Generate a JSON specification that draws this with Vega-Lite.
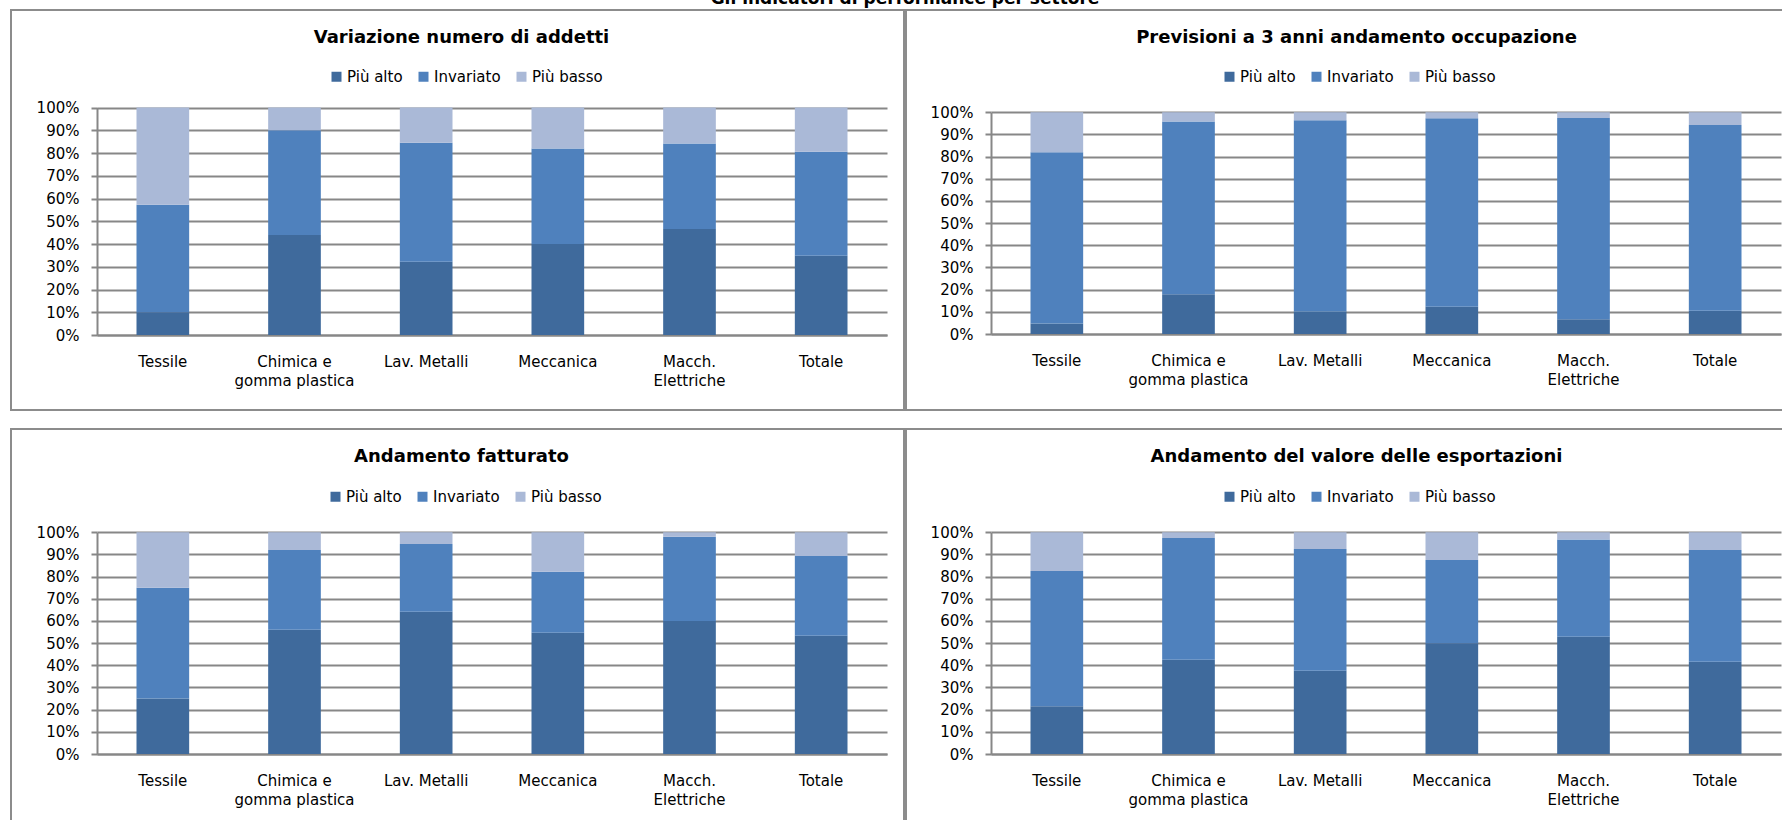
{
  "$schema": "https://vega.github.io/schema/vega-lite/v6.json",
  "autosize": {"type": "pad"},
  "padding": {"left": 10, "top": -10, "right": -14, "bottom": -10},
  "background": "#ffffff",
  "title": {
    "text": "Gli indicatori di performance per settore",
    "fontSize": 17,
    "fontWeight": "bold",
    "anchor": "middle",
    "frame": "bounds",
    "baseline": "alphabetic",
    "offset": -12,
    "dx": 0
  },
  "datasets": {
    "esiti": [
      {"esito": "Più alto", "ordine": 1},
      {"esito": "Invariato", "ordine": 2},
      {"esito": "Più basso", "ordine": 3}
    ],
    "indicatori": [
      {"grafico": "Variazione numero di addetti", "settore": "Tessile", "esito": "Più alto", "quota": 10.0},
      {"grafico": "Variazione numero di addetti", "settore": "Tessile", "esito": "Invariato", "quota": 47.3},
      {"grafico": "Variazione numero di addetti", "settore": "Tessile", "esito": "Più basso", "quota": 42.7},
      {"grafico": "Variazione numero di addetti", "settore": "Chimica e gomma plastica", "esito": "Più alto", "quota": 44.0},
      {"grafico": "Variazione numero di addetti", "settore": "Chimica e gomma plastica", "esito": "Invariato", "quota": 46.0},
      {"grafico": "Variazione numero di addetti", "settore": "Chimica e gomma plastica", "esito": "Più basso", "quota": 10.0},
      {"grafico": "Variazione numero di addetti", "settore": "Lav. Metalli", "esito": "Più alto", "quota": 32.2},
      {"grafico": "Variazione numero di addetti", "settore": "Lav. Metalli", "esito": "Invariato", "quota": 52.3},
      {"grafico": "Variazione numero di addetti", "settore": "Lav. Metalli", "esito": "Più basso", "quota": 15.5},
      {"grafico": "Variazione numero di addetti", "settore": "Meccanica", "esito": "Più alto", "quota": 40.0},
      {"grafico": "Variazione numero di addetti", "settore": "Meccanica", "esito": "Invariato", "quota": 42.0},
      {"grafico": "Variazione numero di addetti", "settore": "Meccanica", "esito": "Più basso", "quota": 18.0},
      {"grafico": "Variazione numero di addetti", "settore": "Macch. Elettriche", "esito": "Più alto", "quota": 46.6},
      {"grafico": "Variazione numero di addetti", "settore": "Macch. Elettriche", "esito": "Invariato", "quota": 37.6},
      {"grafico": "Variazione numero di addetti", "settore": "Macch. Elettriche", "esito": "Più basso", "quota": 15.8},
      {"grafico": "Variazione numero di addetti", "settore": "Totale", "esito": "Più alto", "quota": 34.8},
      {"grafico": "Variazione numero di addetti", "settore": "Totale", "esito": "Invariato", "quota": 45.8},
      {"grafico": "Variazione numero di addetti", "settore": "Totale", "esito": "Più basso", "quota": 19.4},

      {"grafico": "Previsioni a 3 anni andamento occupazione", "settore": "Tessile", "esito": "Più alto", "quota": 4.7},
      {"grafico": "Previsioni a 3 anni andamento occupazione", "settore": "Tessile", "esito": "Invariato", "quota": 77.3},
      {"grafico": "Previsioni a 3 anni andamento occupazione", "settore": "Tessile", "esito": "Più basso", "quota": 18.0},
      {"grafico": "Previsioni a 3 anni andamento occupazione", "settore": "Chimica e gomma plastica", "esito": "Più alto", "quota": 17.9},
      {"grafico": "Previsioni a 3 anni andamento occupazione", "settore": "Chimica e gomma plastica", "esito": "Invariato", "quota": 77.9},
      {"grafico": "Previsioni a 3 anni andamento occupazione", "settore": "Chimica e gomma plastica", "esito": "Più basso", "quota": 4.2},
      {"grafico": "Previsioni a 3 anni andamento occupazione", "settore": "Lav. Metalli", "esito": "Più alto", "quota": 10.1},
      {"grafico": "Previsioni a 3 anni andamento occupazione", "settore": "Lav. Metalli", "esito": "Invariato", "quota": 86.3},
      {"grafico": "Previsioni a 3 anni andamento occupazione", "settore": "Lav. Metalli", "esito": "Più basso", "quota": 3.6},
      {"grafico": "Previsioni a 3 anni andamento occupazione", "settore": "Meccanica", "esito": "Più alto", "quota": 12.3},
      {"grafico": "Previsioni a 3 anni andamento occupazione", "settore": "Meccanica", "esito": "Invariato", "quota": 85.0},
      {"grafico": "Previsioni a 3 anni andamento occupazione", "settore": "Meccanica", "esito": "Più basso", "quota": 2.7},
      {"grafico": "Previsioni a 3 anni andamento occupazione", "settore": "Macch. Elettriche", "esito": "Più alto", "quota": 6.6},
      {"grafico": "Previsioni a 3 anni andamento occupazione", "settore": "Macch. Elettriche", "esito": "Invariato", "quota": 90.8},
      {"grafico": "Previsioni a 3 anni andamento occupazione", "settore": "Macch. Elettriche", "esito": "Più basso", "quota": 2.6},
      {"grafico": "Previsioni a 3 anni andamento occupazione", "settore": "Totale", "esito": "Più alto", "quota": 10.5},
      {"grafico": "Previsioni a 3 anni andamento occupazione", "settore": "Totale", "esito": "Invariato", "quota": 83.8},
      {"grafico": "Previsioni a 3 anni andamento occupazione", "settore": "Totale", "esito": "Più basso", "quota": 5.7},

      {"grafico": "Andamento fatturato", "settore": "Tessile", "esito": "Più alto", "quota": 25.0},
      {"grafico": "Andamento fatturato", "settore": "Tessile", "esito": "Invariato", "quota": 50.0},
      {"grafico": "Andamento fatturato", "settore": "Tessile", "esito": "Più basso", "quota": 25.0},
      {"grafico": "Andamento fatturato", "settore": "Chimica e gomma plastica", "esito": "Più alto", "quota": 56.0},
      {"grafico": "Andamento fatturato", "settore": "Chimica e gomma plastica", "esito": "Invariato", "quota": 36.0},
      {"grafico": "Andamento fatturato", "settore": "Chimica e gomma plastica", "esito": "Più basso", "quota": 8.0},
      {"grafico": "Andamento fatturato", "settore": "Lav. Metalli", "esito": "Più alto", "quota": 64.2},
      {"grafico": "Andamento fatturato", "settore": "Lav. Metalli", "esito": "Invariato", "quota": 30.5},
      {"grafico": "Andamento fatturato", "settore": "Lav. Metalli", "esito": "Più basso", "quota": 5.3},
      {"grafico": "Andamento fatturato", "settore": "Meccanica", "esito": "Più alto", "quota": 54.7},
      {"grafico": "Andamento fatturato", "settore": "Meccanica", "esito": "Invariato", "quota": 27.5},
      {"grafico": "Andamento fatturato", "settore": "Meccanica", "esito": "Più basso", "quota": 17.8},
      {"grafico": "Andamento fatturato", "settore": "Macch. Elettriche", "esito": "Più alto", "quota": 60.0},
      {"grafico": "Andamento fatturato", "settore": "Macch. Elettriche", "esito": "Invariato", "quota": 38.0},
      {"grafico": "Andamento fatturato", "settore": "Macch. Elettriche", "esito": "Più basso", "quota": 2.0},
      {"grafico": "Andamento fatturato", "settore": "Totale", "esito": "Più alto", "quota": 53.3},
      {"grafico": "Andamento fatturato", "settore": "Totale", "esito": "Invariato", "quota": 36.0},
      {"grafico": "Andamento fatturato", "settore": "Totale", "esito": "Più basso", "quota": 10.7},

      {"grafico": "Andamento del valore delle esportazioni", "settore": "Tessile", "esito": "Più alto", "quota": 21.5},
      {"grafico": "Andamento del valore delle esportazioni", "settore": "Tessile", "esito": "Invariato", "quota": 61.0},
      {"grafico": "Andamento del valore delle esportazioni", "settore": "Tessile", "esito": "Più basso", "quota": 17.5},
      {"grafico": "Andamento del valore delle esportazioni", "settore": "Chimica e gomma plastica", "esito": "Più alto", "quota": 42.5},
      {"grafico": "Andamento del valore delle esportazioni", "settore": "Chimica e gomma plastica", "esito": "Invariato", "quota": 54.9},
      {"grafico": "Andamento del valore delle esportazioni", "settore": "Chimica e gomma plastica", "esito": "Più basso", "quota": 2.6},
      {"grafico": "Andamento del valore delle esportazioni", "settore": "Lav. Metalli", "esito": "Più alto", "quota": 37.5},
      {"grafico": "Andamento del valore delle esportazioni", "settore": "Lav. Metalli", "esito": "Invariato", "quota": 55.0},
      {"grafico": "Andamento del valore delle esportazioni", "settore": "Lav. Metalli", "esito": "Più basso", "quota": 7.5},
      {"grafico": "Andamento del valore delle esportazioni", "settore": "Meccanica", "esito": "Più alto", "quota": 50.0},
      {"grafico": "Andamento del valore delle esportazioni", "settore": "Meccanica", "esito": "Invariato", "quota": 37.5},
      {"grafico": "Andamento del valore delle esportazioni", "settore": "Meccanica", "esito": "Più basso", "quota": 12.5},
      {"grafico": "Andamento del valore delle esportazioni", "settore": "Macch. Elettriche", "esito": "Più alto", "quota": 52.9},
      {"grafico": "Andamento del valore delle esportazioni", "settore": "Macch. Elettriche", "esito": "Invariato", "quota": 43.9},
      {"grafico": "Andamento del valore delle esportazioni", "settore": "Macch. Elettriche", "esito": "Più basso", "quota": 3.2},
      {"grafico": "Andamento del valore delle esportazioni", "settore": "Totale", "esito": "Più alto", "quota": 41.6},
      {"grafico": "Andamento del valore delle esportazioni", "settore": "Totale", "esito": "Invariato", "quota": 50.4},
      {"grafico": "Andamento del valore delle esportazioni", "settore": "Totale", "esito": "Più basso", "quota": 8.0}
    ]
  },
  "spacing": 17,
  "resolve": {
    "scale": {"x": "independent", "y": "independent", "color": "independent"},
    "axis": {"x": "independent", "y": "independent"},
    "legend": {"color": "independent"}
  },
  "vconcat": [
    {
      "spacing": 0,
      "resolve": {
        "scale": {"x": "independent", "y": "independent", "color": "independent"},
        "axis": {"x": "independent", "y": "independent"},
        "legend": {"color": "independent"}
      },
      "hconcat": [
        {
          "width": 893,
          "height": 400,
          "title": {"text": "Variazione numero di addetti"},
          "data": {"name": "indicatori"},
          "transform": [
            {"filter": "datum.grafico == 'Variazione numero di addetti'"},
            {"lookup": "esito", "from": {"data": {"name": "esiti"}, "key": "esito", "fields": ["ordine"]}}
          ],
          "mark": {"type": "bar"},
          "encoding": {
            "x": {
              "field": "settore", "type": "nominal", "title": null,
              "sort": ["Tessile", "Chimica e gomma plastica", "Lav. Metalli", "Meccanica", "Macch. Elettriche", "Totale"],
              "scale": {"range": [86, 876], "paddingInner": 0.6, "paddingOuter": 0.3},
              "axis": {"offset": -75}
            },
            "y": {
              "field": "quota", "type": "quantitative", "title": null, "stack": "zero",
              "scale": {"domain": [0, 100], "nice": false, "range": [325, 97.5]},
              "axis": {"offset": -86}
            },
            "order": {"field": "ordine", "type": "quantitative", "sort": "ascending"},
            "color": {
              "field": "esito", "type": "nominal",
              "sort": ["Più alto", "Invariato", "Più basso"],
              "scale": {"domain": ["Più alto", "Invariato", "Più basso"], "range": ["#3f6a9c", "#4f81bd", "#aab9d7"]},
              "legend": {"legendX": 318, "legendY": 59}
            }
          }
        },
        {
          "width": 893,
          "height": 400,
          "title": {"text": "Previsioni a 3 anni andamento occupazione"},
          "data": {"name": "indicatori"},
          "transform": [
            {"filter": "datum.grafico == 'Previsioni a 3 anni andamento occupazione'"},
            {"lookup": "esito", "from": {"data": {"name": "esiti"}, "key": "esito", "fields": ["ordine"]}}
          ],
          "mark": {"type": "bar"},
          "encoding": {
            "x": {
              "field": "settore", "type": "nominal", "title": null,
              "sort": ["Tessile", "Chimica e gomma plastica", "Lav. Metalli", "Meccanica", "Macch. Elettriche", "Totale"],
              "scale": {"range": [85, 875], "paddingInner": 0.6, "paddingOuter": 0.3},
              "axis": {"offset": -76}
            },
            "y": {
              "field": "quota", "type": "quantitative", "title": null, "stack": "zero",
              "scale": {"domain": [0, 100], "nice": false, "range": [324, 102.3]},
              "axis": {"offset": -85}
            },
            "order": {"field": "ordine", "type": "quantitative", "sort": "ascending"},
            "color": {
              "field": "esito", "type": "nominal",
              "sort": ["Più alto", "Invariato", "Più basso"],
              "scale": {"domain": ["Più alto", "Invariato", "Più basso"], "range": ["#3f6a9c", "#4f81bd", "#aab9d7"]},
              "legend": {"legendX": 316, "legendY": 59}
            }
          }
        }
      ]
    },
    {
      "spacing": 0,
      "resolve": {
        "scale": {"x": "independent", "y": "independent", "color": "independent"},
        "axis": {"x": "independent", "y": "independent"},
        "legend": {"color": "independent"}
      },
      "hconcat": [
        {
          "width": 893,
          "height": 400,
          "title": {"text": "Andamento fatturato"},
          "data": {"name": "indicatori"},
          "transform": [
            {"filter": "datum.grafico == 'Andamento fatturato'"},
            {"lookup": "esito", "from": {"data": {"name": "esiti"}, "key": "esito", "fields": ["ordine"]}}
          ],
          "mark": {"type": "bar"},
          "encoding": {
            "x": {
              "field": "settore", "type": "nominal", "title": null,
              "sort": ["Tessile", "Chimica e gomma plastica", "Lav. Metalli", "Meccanica", "Macch. Elettriche", "Totale"],
              "scale": {"range": [86, 876], "paddingInner": 0.6, "paddingOuter": 0.3},
              "axis": {"offset": -75}
            },
            "y": {
              "field": "quota", "type": "quantitative", "title": null, "stack": "zero",
              "scale": {"domain": [0, 100], "nice": false, "range": [325, 103.3]},
              "axis": {"offset": -86}
            },
            "order": {"field": "ordine", "type": "quantitative", "sort": "ascending"},
            "color": {
              "field": "esito", "type": "nominal",
              "sort": ["Più alto", "Invariato", "Più basso"],
              "scale": {"domain": ["Più alto", "Invariato", "Più basso"], "range": ["#3f6a9c", "#4f81bd", "#aab9d7"]},
              "legend": {"legendX": 317, "legendY": 60}
            }
          }
        },
        {
          "width": 893,
          "height": 400,
          "title": {"text": "Andamento del valore delle esportazioni"},
          "data": {"name": "indicatori"},
          "transform": [
            {"filter": "datum.grafico == 'Andamento del valore delle esportazioni'"},
            {"lookup": "esito", "from": {"data": {"name": "esiti"}, "key": "esito", "fields": ["ordine"]}}
          ],
          "mark": {"type": "bar"},
          "encoding": {
            "x": {
              "field": "settore", "type": "nominal", "title": null,
              "sort": ["Tessile", "Chimica e gomma plastica", "Lav. Metalli", "Meccanica", "Macch. Elettriche", "Totale"],
              "scale": {"range": [85, 875], "paddingInner": 0.6, "paddingOuter": 0.3},
              "axis": {"offset": -75}
            },
            "y": {
              "field": "quota", "type": "quantitative", "title": null, "stack": "zero",
              "scale": {"domain": [0, 100], "nice": false, "range": [325, 103.3]},
              "axis": {"offset": -85}
            },
            "order": {"field": "ordine", "type": "quantitative", "sort": "ascending"},
            "color": {
              "field": "esito", "type": "nominal",
              "sort": ["Più alto", "Invariato", "Più basso"],
              "scale": {"domain": ["Più alto", "Invariato", "Più basso"], "range": ["#3f6a9c", "#4f81bd", "#aab9d7"]},
              "legend": {"legendX": 316, "legendY": 60}
            }
          }
        }
      ]
    }
  ],
  "config": {
    "font": "DejaVu Sans",
    "view": {"stroke": "#8c8c8c", "strokeWidth": 2},
    "title": {
      "fontSize": 18,
      "fontWeight": "bold",
      "color": "#000000",
      "anchor": "middle",
      "frame": "group",
      "baseline": "middle",
      "offset": -37,
      "dx": 4
    },
    "axisX": {
      "labelAngle": 0,
      "ticks": false,
      "grid": false,
      "domainColor": "#878787",
      "domainWidth": 2,
      "labelFontSize": 15,
      "labelColor": "#000000",
      "labelPadding": 26,
      "labelLineHeight": 19,
      "labelBaseline": "middle",
      "labelExpr": "datum.value == 'Chimica e gomma plastica' ? ['Chimica e', 'gomma plastica'] : datum.value == 'Macch. Elettriche' ? ['Macch.', 'Elettriche'] : datum.value"
    },
    "axisY": {
      "values": [0, 10, 20, 30, 40, 50, 60, 70, 80, 90, 100],
      "labelExpr": "datum.value + '%'",
      "grid": true,
      "gridColor": "#878787",
      "gridWidth": 2,
      "gridOpacity": 1,
      "domainColor": "#878787",
      "domainWidth": 2,
      "tickColor": "#878787",
      "tickWidth": 2,
      "tickSize": 6,
      "labelFontSize": 15,
      "labelColor": "#000000",
      "labelPadding": 12
    },
    "legend": {
      "orient": "none",
      "direction": "horizontal",
      "title": null,
      "symbolType": "square",
      "symbolSize": 100,
      "symbolStrokeWidth": 0,
      "symbolOpacity": 1,
      "labelFontSize": 15,
      "labelColor": "#000000",
      "labelOffset": 3,
      "columnPadding": 13,
      "padding": 0
    }
  }
}
